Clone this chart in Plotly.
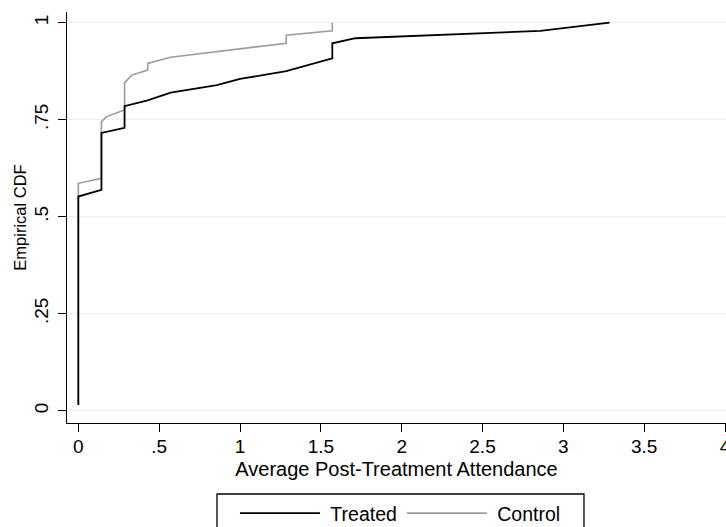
import plotly.graph_objects as go

# Average post-treatment attendance (x) and empirical CDF (y)
treated_x = [0.0, 0.0, 0.143, 0.143, 0.286, 0.286, 0.429, 0.571, 0.857, 1.0,
             1.286, 1.429, 1.571, 1.571, 1.714, 2.857, 3.286]
treated_y = [0.015, 0.552, 0.569, 0.716, 0.729, 0.785, 0.800, 0.820, 0.839, 0.855,
             0.875, 0.891, 0.908, 0.947, 0.960, 0.979, 1.0]

control_x = [0.0, 0.0, 0.143, 0.143, 0.175, 0.286, 0.286, 0.33, 0.429, 0.429,
             0.571, 1.286, 1.286, 1.571, 1.571]
control_y = [0.017, 0.586, 0.599, 0.745, 0.758, 0.775, 0.845, 0.865, 0.878, 0.895,
             0.911, 0.947, 0.968, 0.979, 1.0]

x_tickvals = [0, 0.5, 1, 1.5, 2, 2.5, 3, 3.5, 4]
x_ticktext = ["0", ".5", "1", "1.5", "2", "2.5", "3", "3.5", "4"]
y_tickvals = [0, 0.25, 0.5, 0.75, 1]
y_ticktext = ["0", ".25", ".5", ".75", "1"]

FONT = "Liberation Sans, Arial, Helvetica, sans-serif"

fig = go.Figure()
fig.add_trace(go.Scatter(x=control_x, y=control_y, mode="lines", name="\u00a0Control",
                         line=dict(color="#9c9c9c", width=1.6), legendrank=2))
fig.add_trace(go.Scatter(x=treated_x, y=treated_y, mode="lines", name="\u00a0Treated",
                         line=dict(color="#000000", width=1.8), legendrank=1))

# legend frame (wider padding than plotly's own legend border)
fig.add_shape(type="rect", xref="paper", yref="paper",
              x0=0.2276, x1=0.7845, y0=-0.40, y1=-0.1727,
              line=dict(color="black", width=1.3), fillcolor="rgba(0,0,0,0)",
              layer="above")

fig.update_layout(
    width=726, height=527,
    margin=dict(l=67, r=0, t=12, b=104, autoexpand=False),
    paper_bgcolor="white", plot_bgcolor="white",
    font=dict(family=FONT, color="black", size=19),
    showlegend=True,
    legend=dict(orientation="h", x=0.506, xanchor="center", y=-0.1727, yanchor="top",
                borderwidth=0, bgcolor="rgba(0,0,0,0)",
                font=dict(size=19.5), itemwidth=80, traceorder="normal"),
    xaxis=dict(range=[-0.07, 4.006], tickvals=x_tickvals, ticktext=x_ticktext,
               showgrid=False, zeroline=False, showline=True, linecolor="black",
               linewidth=1.3, ticks="outside", ticklen=8, tickwidth=1.3,
               tickcolor="black", tickfont=dict(size=19), automargin=False,
               ticklabelstandoff=-2, ticklabeloverflow="allow",
               title=dict(text="Average Post-Treatment Attendance",
                          font=dict(size=20), standoff=6)),
    yaxis=dict(range=[-0.0317, 1.0276], tickvals=y_tickvals, ticktext=y_ticktext,
               showgrid=True, gridcolor="#e8f0f2", gridwidth=1.2, zeroline=False,
               showline=True, linecolor="black", linewidth=1.3, ticks="outside",
               ticklen=8, tickwidth=1.3, tickcolor="black", tickangle=-90,
               tickfont=dict(size=19), automargin=False, ticklabelstandoff=2,
               title=dict(text="Empirical CDF", font=dict(size=16.5), standoff=0)),
)

fig.write_html("out.html", config={"displayModeBar": False},
               post_script="document.body.style.margin='0px';")
